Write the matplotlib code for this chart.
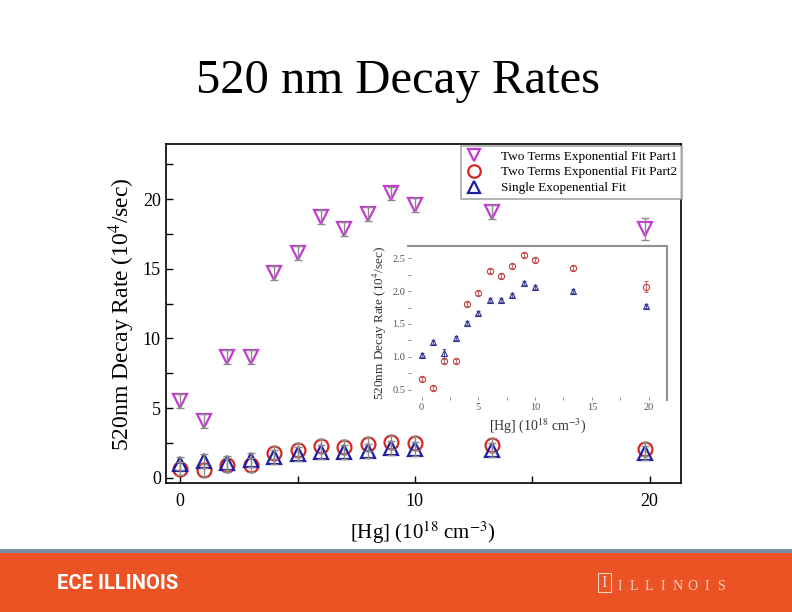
import numpy as np
import matplotlib.pyplot as plt
from matplotlib.patches import Rectangle
from matplotlib.ticker import MultipleLocator

# Hg density (10^18 cm^-3)
hg = [0, 1, 2, 3, 4, 5, 6, 7, 8, 9, 10, 13.3, 19.8]
# decay rates (10^4 /sec)
part1 = [5.5, 4.05, 8.65, 8.65, 14.7, 16.15, 18.7, 17.85, 18.9, 20.4, 19.55, 19.1, 17.85]
part1_err = [0.5, 0.5, 0.5, 0.5, 0.5, 0.5, 0.5, 0.5, 0.5, 0.5, 0.5, 0.5, 0.8]
part2 = [0.66, 0.52, 0.94, 0.94, 1.81, 1.97, 2.31, 2.23, 2.39, 2.56, 2.47, 2.35, 2.07]
part2_err = [0.03, 0.03, 0.03, 0.03, 0.03, 0.03, 0.03, 0.03, 0.03, 0.03, 0.03, 0.03, 0.08]
single = [1.02, 1.22, 1.05, 1.28, 1.52, 1.67, 1.86, 1.87, 1.94, 2.12, 2.07, 2.0, 1.78]
single_err = [0.03, 0.03, 0.07, 0.03, 0.03, 0.03, 0.03, 0.03, 0.03, 0.03, 0.03, 0.03, 0.03]
main_err = [0.5] * len(hg)

labels = ['Two Terms Exponential Fit Part1', 'Two Terms Exponential Fit Part2',
          'Single Exopenential Fit']
c_p1 = '#c23ccf'
c_p2 = '#d02a22'
c_s = '#1e1ea0'
c_err = '#8a8a8a'

plt.rcParams['font.family'] = ['Liberation Serif', 'DejaVu Serif']
plt.rcParams['mathtext.fontset'] = 'stix'

fig = plt.figure(figsize=(7.92, 6.12), dpi=100)
fig.set_facecolor('white')

fig.text(0.502, 0.868, '520 nm Decay Rates', ha='center', va='center', fontsize=35)

ax = fig.add_axes([0.2092, 0.2103, 0.6503, 0.5544])
ax.set_xlim(-0.62, 21.33)
ax.set_ylim(-0.4, 23.95)
ax.xaxis.set_major_locator(MultipleLocator(10))
ax.xaxis.set_minor_locator(MultipleLocator(5))
ax.yaxis.set_major_locator(MultipleLocator(5))
ax.yaxis.set_minor_locator(MultipleLocator(2.5))
ax.tick_params(which='both', direction='in', length=5, width=1, labelsize=13)
ax.tick_params(axis='x', pad=7)
for s in ax.spines.values():
    s.set_linewidth(1.2)

ax.errorbar(hg, part1, yerr=part1_err, fmt='none', ecolor=c_err, elinewidth=1, capsize=3, zorder=4)
ax.errorbar(hg, part2, yerr=main_err, fmt='none', ecolor=c_err, elinewidth=1, capsize=3, zorder=4)
ax.errorbar(hg, single, yerr=main_err, fmt='none', ecolor=c_err, elinewidth=1, capsize=3, zorder=4)
ax.plot(hg, part1, 'v', ms=10, mfc='none', mec=c_p1, mew=1.6, ls='none', label=labels[0], zorder=3)
ax.plot(hg, part2, 'o', ms=10, mfc='none', mec=c_p2, mew=1.6, ls='none', label=labels[1], zorder=3)
ax.plot(hg, single, '^', ms=10, mfc='none', mec=c_s, mew=1.6, ls='none', label=labels[2], zorder=3)

ax.set_xlabel('[Hg] (10$^{18}$ cm$^{-3}$)', fontsize=15, labelpad=7)
ax.set_ylabel('520nm Decay Rate (10$^4$/sec)', fontsize=17, labelpad=4)

leg = ax.legend(loc='upper right', bbox_to_anchor=(1.002, 0.995), fontsize=9.5,
                frameon=True, fancybox=False, borderpad=0.35, handletextpad=1.3,
                labelspacing=0.28, borderaxespad=0, handlelength=1.4, markerscale=0.9)
leg.get_frame().set_edgecolor('#909090')
leg.get_frame().set_linewidth(1.2)

# inset
ins = fig.add_axes([0.5152, 0.3464, 0.3266, 0.2516])
ins.set_facecolor('white')
ins.set_xlim(-1.2, 21.6)
ins.set_ylim(0.34, 2.69)
ins.spines['left'].set_visible(False)
ins.spines['bottom'].set_visible(False)
ins.spines['top'].set_color('#909090')
ins.spines['right'].set_color('#909090')
ins.spines['top'].set_linewidth(1.5)
ins.spines['right'].set_linewidth(1.5)
ins.xaxis.set_major_locator(MultipleLocator(5))
ins.xaxis.set_minor_locator(MultipleLocator(2.5))
ins.yaxis.set_major_locator(MultipleLocator(0.5))
ins.yaxis.set_minor_locator(MultipleLocator(0.25))
ins.tick_params(which='both', direction='in', length=2, width=0.6, color='#777777',
                labelsize=7.5, labelcolor='#555555', pad=2)
ins.yaxis.set_major_formatter(plt.FormatStrFormatter('%.1f'))
ins.errorbar(hg, part2, yerr=part2_err, fmt='o', ms=4.5, mfc='none', mec='#c84040', mew=0.8,
             ecolor='#c07070', elinewidth=0.8, capsize=1.5)
ins.errorbar(hg, single, yerr=single_err, fmt='^', ms=4.5, mfc='none', mec='#303090', mew=0.8,
             ecolor='#6060a0', elinewidth=0.8, capsize=1.5)
ins.set_xlabel('[Hg] (10$^{18}$ cm$^{-3}$)', fontsize=10, color='#333333', labelpad=3)
ins.set_ylabel('520nm Decay Rate (10$^4$/sec)', fontsize=9.5, color='#333333', labelpad=2)

# footer banner
fig.add_artist(Rectangle((0, 0.0965), 1, 0.0065, transform=fig.transFigure, color='#7d8ea6', lw=0))
fig.add_artist(Rectangle((0, 0), 1, 0.0965, transform=fig.transFigure, color='#ec5324', lw=0))
fig.text(0.072, 0.046, 'ECE ILLINOIS', color='white', fontsize=14.5, fontweight='bold',
         family=['Roboto', 'DejaVu Sans'], va='center', ha='left')
fig.add_artist(Rectangle((0.7545, 0.032), 0.017, 0.031, transform=fig.transFigure,
                         fill=False, ec='#f3d2c0', lw=0.8))
fig.text(0.763, 0.047, 'I', color='#f3d2c0', fontsize=12, va='center', ha='center')
for i, ch in enumerate('ILLINOIS'):
    fig.text(0.782 + i * 0.0184, 0.042, ch, color='#f3d2c0', fontsize=10,
             va='center', ha='center')

fig.savefig('out.png', dpi=100)
